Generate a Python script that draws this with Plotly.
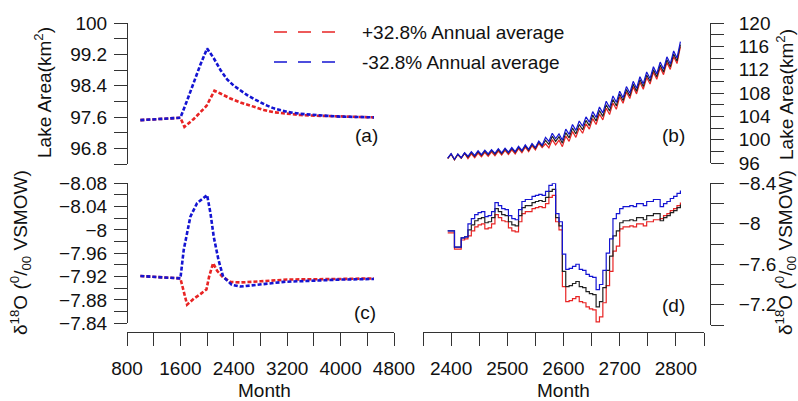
import plotly.graph_objects as go

W, H = 798, 401
FONT = "Liberation Sans, Arial, sans-serif"
RED = "#E82424"
BLUE = "#1414D2"
BLACK = "#222222"

# ---------------- panel (a): lake area, long run ----------------
a_month_pos = [1000, 1600, 1660, 1800, 1990, 2110, 2200, 2340, 2500, 2684, 2850, 3000, 3200, 3400, 3700, 4000, 4500]
a_area_pos = [97.52, 97.58, 97.35, 97.55, 97.88, 98.27, 98.20, 98.08, 97.97, 97.86, 97.78, 97.72, 97.68, 97.65, 97.63, 97.61, 97.59]
a_month_neg = [1000, 1600, 1700, 1800, 1900, 2000, 2100, 2200, 2300, 2400, 2500, 2600, 2700, 2800, 2900, 3000, 3200, 3400, 3600, 3800, 4000, 4200, 4500]
a_area_neg = [97.52, 97.58, 98.02, 98.50, 98.94, 99.35, 99.10, 98.80, 98.56, 98.40, 98.27, 98.16, 98.06, 97.97, 97.89, 97.82, 97.73, 97.68, 97.65, 97.63, 97.61, 97.60, 97.59]

# ---------------- panel (c): d18O, long run ----------------
c_month_pos = [1000, 1600, 1700, 1800, 1900, 1990, 2030, 2090, 2150, 2230, 2350, 2500, 2800, 3200, 4000, 4500]
c_d18o_pos = [-7.921, -7.917, -7.872, -7.882, -7.890, -7.898, -7.920, -7.943, -7.930, -7.920, -7.911, -7.910, -7.912, -7.915, -7.916, -7.917]
c_month_neg = [1000, 1600, 1650, 1700, 1750, 1850, 1950, 2000, 2050, 2100, 2170, 2240, 2370, 2500, 2750, 3150, 4000, 4500]
c_d18o_neg = [-7.921, -7.917, -7.966, -7.997, -8.023, -8.046, -8.056, -8.060, -8.029, -7.988, -7.949, -7.920, -7.906, -7.903, -7.906, -7.911, -7.915, -7.916]

# ---------------- panels (b) and (d): months 2394..2808, every 6 months ----------------
bd_month = [2394, 2400, 2406, 2412, 2418, 2424, 2430, 2436, 2442, 2448,
            2454, 2460, 2466, 2472, 2478, 2484, 2490, 2496, 2502, 2508,
            2514, 2520, 2526, 2532, 2538, 2544, 2550, 2556, 2562, 2568,
            2574, 2580, 2586, 2592, 2598, 2604, 2610, 2616, 2622, 2628,
            2634, 2640, 2646, 2652, 2658, 2664, 2670, 2676, 2682, 2688,
            2694, 2700, 2706, 2712, 2718, 2724, 2730, 2736, 2742, 2748,
            2754, 2760, 2766, 2772, 2778, 2784, 2790, 2796, 2802, 2808]

b_area_base = [96.80, 97.55, 96.60, 97.50, 96.85, 97.70, 97.00, 97.80, 97.15, 97.95,
               97.30, 98.05, 97.40, 98.15, 97.50, 98.30, 97.60, 98.40, 97.70, 98.50,
               97.80, 98.70, 98.00, 98.95, 98.20, 99.20, 98.50, 99.60, 98.90, 99.90,
               99.20, 100.60, 99.70, 100.50, 99.40, 101.20, 100.30, 102.00, 101.00, 102.60,
               101.70, 103.30, 102.40, 104.20, 103.20, 105.00, 104.00, 106.00, 104.90, 106.90,
               105.80, 107.80, 106.70, 108.60, 107.50, 109.50, 108.30, 110.30, 109.10, 111.10,
               110.00, 112.00, 110.80, 112.80, 111.60, 113.70, 112.50, 114.70, 113.50, 116.30]
b_area_neg = [96.85, 97.60, 96.65, 97.55, 96.90, 97.75, 97.15, 97.95, 97.30, 98.10,
              97.45, 98.20, 97.55, 98.30, 97.65, 98.45, 97.75, 98.55, 97.85, 98.65,
              97.95, 98.85, 98.15, 99.10, 98.35, 99.35, 98.65, 99.75, 99.05, 100.40,
              99.70, 101.10, 100.20, 101.00, 99.90, 101.80, 100.90, 102.60, 101.60, 103.20,
              102.30, 103.90, 103.00, 104.80, 103.80, 105.60, 104.60, 106.60, 105.50, 107.50,
              106.40, 108.30, 107.20, 109.10, 108.00, 110.00, 108.80, 110.80, 109.60, 111.60,
              110.50, 112.50, 111.30, 113.30, 112.10, 114.20, 113.00, 115.20, 114.00, 116.80]
b_area_pos = [96.75, 97.50, 96.55, 97.45, 96.80, 97.65, 96.75, 97.55, 96.90, 97.70,
              97.05, 97.80, 97.15, 97.90, 97.25, 98.05, 97.35, 98.15, 97.45, 98.25,
              97.55, 98.45, 97.75, 98.70, 97.95, 98.95, 98.25, 99.35, 98.65, 99.30,
              98.60, 100.00, 99.10, 99.90, 98.80, 100.60, 99.70, 101.40, 100.40, 102.00,
              101.10, 102.70, 101.80, 103.60, 102.60, 104.40, 103.40, 105.40, 104.30, 106.30,
              105.20, 107.35, 106.25, 108.15, 107.05, 109.05, 107.85, 109.85, 108.65, 110.65,
              109.55, 111.55, 110.35, 112.35, 111.15, 113.25, 112.05, 114.25, 113.05, 115.95]

d_d18o_neg = [-7.93, -7.93, -7.77, -7.77, -7.86, -7.87, -8.00, -8.05, -8.09, -8.11,
              -8.12, -8.07, -8.08, -8.12, -8.21, -8.18, -8.15, -8.14, -8.08, -8.05,
              -8.04, -8.14, -8.22, -8.24, -8.24, -8.27, -8.28, -8.29, -8.28, -8.32,
              -8.38, -8.40, -8.10, -8.02, -7.70, -7.55, -7.56, -7.58, -7.60, -7.55,
              -7.54, -7.50, -7.48, -7.47, -7.35, -7.40, -7.54, -7.71, -7.85, -8.05,
              -8.10, -8.15, -8.17, -8.17, -8.18, -8.17, -8.20, -8.20, -8.18, -8.22,
              -8.22, -8.24, -8.24, -8.17, -8.20, -8.22, -8.25, -8.27, -8.30, -8.33]
d_d18o_base = [-7.93, -7.93, -7.77, -7.77, -7.86, -7.87, -7.94, -7.99, -8.03, -8.05,
               -8.06, -8.01, -8.02, -8.06, -8.15, -8.12, -8.09, -8.08, -8.02, -7.99,
               -7.98, -8.08, -8.16, -8.18, -8.18, -8.21, -8.22, -8.23, -8.22, -8.26,
               -8.32, -8.34, -8.06, -7.98, -7.53, -7.38, -7.39, -7.41, -7.43, -7.38,
               -7.37, -7.33, -7.31, -7.30, -7.18, -7.23, -7.37, -7.54, -7.68, -7.88,
               -7.93, -8.01, -8.03, -8.03, -8.04, -8.03, -8.06, -8.06, -8.04, -8.08,
               -8.08, -8.10, -8.10, -8.03, -8.06, -8.08, -8.11, -8.13, -8.16, -8.19]
d_d18o_pos = [-7.91, -7.91, -7.75, -7.75, -7.84, -7.85, -7.88, -7.93, -7.97, -7.99,
              -8.00, -7.95, -7.96, -8.00, -8.09, -8.06, -8.03, -8.02, -7.96, -7.93,
              -7.92, -8.02, -8.10, -8.12, -8.12, -8.15, -8.16, -8.17, -8.16, -8.20,
              -8.26, -8.28, -8.02, -7.94, -7.38, -7.23, -7.24, -7.26, -7.28, -7.23,
              -7.22, -7.18, -7.16, -7.15, -7.03, -7.08, -7.22, -7.39, -7.53, -7.73,
              -7.78, -7.95, -7.97, -7.97, -7.98, -7.97, -8.00, -8.00, -7.98, -8.02,
              -8.02, -8.04, -8.04, -8.05, -8.08, -8.10, -8.13, -8.15, -8.18, -8.21]

# ---------------- tick definitions ----------------
ya_vals = [96.4, 96.8, 97.2, 97.6, 98.0, 98.4, 98.8, 99.2, 99.6, 100.0]
ya_text = ["", "96.8", "", "97.6", "", "98.4", "", "99.2", "", "100"]
yb_vals = [96, 98, 100, 102, 104, 106, 108, 110, 112, 114, 116, 118, 120]
yb_text = ["96", "", "100", "", "104", "", "108", "", "112", "", "116", "", "120"]
yc_vals = [-8.08, -8.06, -8.04, -8.02, -8.00, -7.98, -7.96, -7.94, -7.92, -7.90, -7.88, -7.86, -7.84]
yc_text = ["\u22128.08", "", "\u22128.04", "", "\u22128", "", "\u22127.96", "", "\u22127.92", "", "\u22127.88", "", "\u22127.84"]
yd_vals = [-8.4, -8.2, -8.0, -7.8, -7.6, -7.4, -7.2, -7.0]
yd_text = ["\u22128.4", "", "\u22128", "", "\u22127.6", "", "\u22127.2", ""]
xc_vals = [800, 1200, 1600, 2000, 2400, 2800, 3200, 3600, 4000, 4400, 4800]
xc_text = ["800", "", "1600", "", "2400", "", "3200", "", "4000", "", "4800"]
xd_vals = [2350, 2400, 2450, 2500, 2550, 2600, 2650, 2700, 2750, 2800, 2850]
xd_text = ["", "2400", "", "2500", "", "2600", "", "2700", "", "2800", ""]

legend_labels = ["+32.8% Annual average", "-32.8% Annual average"]


def px(x):
    return x / W


def py(y):
    return 1 - y / H


fig = go.Figure()
DASH = "4px,2px"
LW = 2.6

# (a)
fig.add_trace(go.Scatter(x=a_month_pos, y=a_area_pos, mode="lines", line=dict(color=RED, width=LW, dash=DASH), xaxis="x", yaxis="y", showlegend=False))
fig.add_trace(go.Scatter(x=a_month_neg, y=a_area_neg, mode="lines", line=dict(color=BLUE, width=LW, dash=DASH), xaxis="x", yaxis="y", showlegend=False))
# (b)
fig.add_trace(go.Scatter(x=bd_month, y=b_area_pos, mode="lines", line=dict(color=RED, width=1.2), xaxis="x2", yaxis="y2", showlegend=False))
fig.add_trace(go.Scatter(x=bd_month, y=b_area_base, mode="lines", line=dict(color=BLACK, width=1.2), xaxis="x2", yaxis="y2", showlegend=False))
fig.add_trace(go.Scatter(x=bd_month, y=b_area_neg, mode="lines", line=dict(color=BLUE, width=1.2), xaxis="x2", yaxis="y2", showlegend=False))
# (c)
fig.add_trace(go.Scatter(x=c_month_pos, y=c_d18o_pos, mode="lines", line=dict(color=RED, width=LW, dash=DASH), xaxis="x3", yaxis="y3", showlegend=False))
fig.add_trace(go.Scatter(x=c_month_neg, y=c_d18o_neg, mode="lines", line=dict(color=BLUE, width=LW, dash=DASH), xaxis="x3", yaxis="y3", showlegend=False))
# (d)
fig.add_trace(go.Scatter(x=bd_month, y=d_d18o_pos, mode="lines", line=dict(color=RED, width=1.2, shape="hv"), xaxis="x4", yaxis="y4", showlegend=False))
fig.add_trace(go.Scatter(x=bd_month, y=d_d18o_base, mode="lines", line=dict(color=BLACK, width=1.2, shape="hv"), xaxis="x4", yaxis="y4", showlegend=False))
fig.add_trace(go.Scatter(x=bd_month, y=d_d18o_neg, mode="lines", line=dict(color=BLUE, width=1.2, shape="hv"), xaxis="x4", yaxis="y4", showlegend=False))

tickfont = dict(family=FONT, size=19, color="#111")
common_axis = dict(showgrid=False, zeroline=False, showline=True, linecolor="#333", linewidth=1,
                   ticks="outside", ticklen=13, tickcolor="#333", tickwidth=1, tickfont=tickfont,
                   tickmode="array", automargin=False)

XL = [px(127), px(394)]
XR = [px(423), px(704)]

fig.update_layout(
    width=W, height=H,
    margin=dict(l=0, r=0, t=0, b=0),
    paper_bgcolor="white", plot_bgcolor="rgba(0,0,0,0)",
    font=dict(family=FONT, size=19, color="#111"),
    showlegend=False,
    xaxis=dict(domain=XL, range=[800, 4800], visible=False, anchor="y"),
    yaxis=dict(domain=[py(164), py(23)], range=[96.4, 100], anchor="free", position=px(127),
               tickvals=ya_vals, ticktext=ya_text, ticklabelstandoff=3, **common_axis),
    xaxis2=dict(domain=XR, range=[2350, 2850], visible=False, anchor="y2"),
    yaxis2=dict(domain=[py(163), py(23)], range=[96, 120], anchor="free", position=px(710), side="right",
                tickvals=yb_vals, ticktext=yb_text, ticklabelstandoff=11, **common_axis),
    xaxis3=dict(domain=XL, range=[800, 4800], anchor="free", position=py(332), side="bottom",
                tickvals=xc_vals, ticktext=xc_text, ticklabelstandoff=6, **common_axis),
    yaxis3=dict(domain=[py(323.3), py(183.3)], range=[-7.84, -8.08], anchor="free", position=px(127),
                tickvals=yc_vals, ticktext=yc_text, ticklabelstandoff=3, **common_axis),
    xaxis4=dict(domain=XR, range=[2350, 2850], anchor="free", position=py(332), side="bottom",
                tickvals=xd_vals, ticktext=xd_text, ticklabelstandoff=6, **common_axis),
    yaxis4=dict(domain=[py(325), py(183.3)], range=[-7.0, -8.4], anchor="free", position=px(710), side="right",
                tickvals=yd_vals, ticktext=yd_text, ticklabelstandoff=11, **common_axis),
)

ann = []
def text(x, y, s, angle=0, xanchor="center"):
    ann.append(dict(x=px(x), y=py(y), xref="paper", yref="paper", text=s, showarrow=False,
                    textangle=angle, xanchor=xanchor, yanchor="middle",
                    font=dict(family=FONT, size=19, color="#111")))

area_title = "Lake Area(km<sup>2</sup>)"
d18o_title = "\u03b4<sup>18</sup>O (<sup>0</sup>/<sub>00</sub> VSMOW)"
text(43, 93, area_title, -90)
text(20, 253, d18o_title, -90)
text(785, 95, area_title, -90)
text(785, 253, d18o_title, -90)
text(264, 390, "Month")
text(563, 390, "Month")
text(366, 135, "(a)")
text(673, 135, "(b)")
text(365, 312, "(c)")
text(673, 305, "(d)")
text(360, 32, legend_labels[0], xanchor="left")
text(360, 62, legend_labels[1], xanchor="left")
fig.update_layout(annotations=ann)

shapes = [
    dict(type="line", xref="paper", yref="paper", x0=px(274), x1=px(346), y0=py(32), y1=py(32),
         line=dict(color=RED, width=1.6, dash="13px,11px")),
    dict(type="line", xref="paper", yref="paper", x0=px(274), x1=px(346), y0=py(62), y1=py(62),
         line=dict(color=BLUE, width=1.6, dash="13px,11px")),
]
fig.update_layout(shapes=shapes)

fig.write_html("out.html", config={"displayModeBar": False},
               post_script="document.body.style.margin='0';document.body.style.overflow='hidden';")
